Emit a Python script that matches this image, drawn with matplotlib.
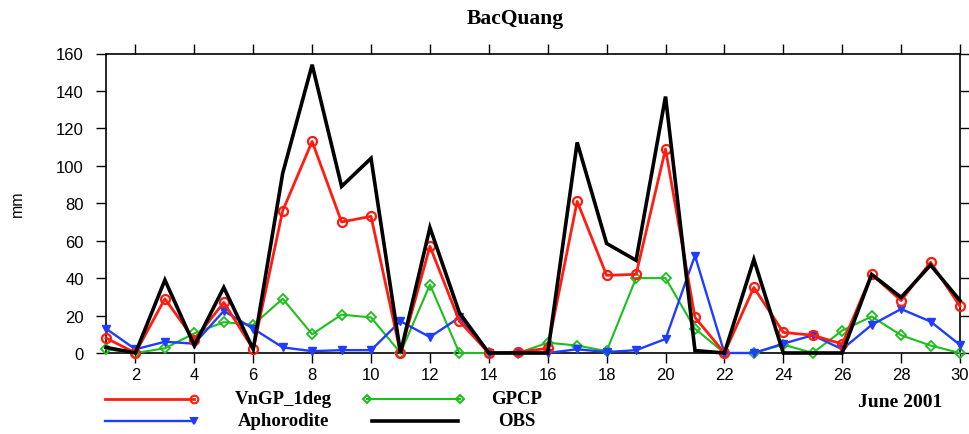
import matplotlib
matplotlib.use("Agg")
import matplotlib.pyplot as plt
from matplotlib.lines import Line2D

days = list(range(1, 31))
vngp = [8, 0, 29, 7, 27, 2, 76, 113, 70, 73, 0, 57, 17, 0, 0.5, 2.5, 81, 41.5, 42, 109,
        19, 0, 35, 11, 9.5, 4.8, 42, 28, 48.5, 25]
gpcp = [2, 0, 2.5, 10.5, 16.5, 15, 29, 10, 20.5, 19, 0, 36.5, 0, 0, 0, 5.5, 4, 1, 40, 40,
        13, 0, 0, 4.5, 0, 12, 19.5, 9.5, 4, 0]
aphro = [13, 2, 6, 5, 22.5, 13, 3, 1, 1.5, 1.5, 17, 8.5, 19, 0, 0, 0, 2, 0.5, 1.5, 7.5,
         52, 0, 0, 5, 9.5, 2, 15, 23.5, 16.8, 4.3]
obs = [3, 0, 39, 4, 35, 2, 96, 154, 89, 104, 0, 67, 21.5, 0, 0, 0, 112.5, 58.5, 49.5, 137,
       1.3, 0, 50, 0, 0, 0, 42, 29.7, 47, 28]

xticks = list(range(2, 31, 2))
yticks = list(range(0, 161, 20))

RED = "#ff1c10"
GREEN = "#1cbf1c"
BLUE = "#1f3cff"
BLACK = "#000000"

W, H = 970, 435
fig = plt.figure(figsize=(W / 100, H / 100), dpi=100)
ax = fig.add_axes([106 / W, 1 - 354 / H, (960 - 106) / W, (354 - 54.5) / H])

ax.plot(days, gpcp, color=GREEN, lw=1.5, marker="D", ms=5, mfc="none", mec=GREEN,
        mew=1.3, clip_on=False, zorder=3)
ax.plot(days, aphro, color=BLUE, lw=1.7, marker="v", ms=5.8, mfc=BLUE, mec=BLUE,
        clip_on=False, zorder=4)
ax.plot(days, vngp, color=RED, lw=2.0, marker="o", ms=6.5, mfc="none", mec=RED,
        mew=1.6, clip_on=False, zorder=5)
ax.plot(days, obs, color=BLACK, lw=2.6, solid_joinstyle="miter", clip_on=False, zorder=6)

ax.set_xlim(1, 30)
ax.set_ylim(0, 160)
ax.set_xticks(xticks)
ax.set_yticks(yticks)
for s in ax.spines.values():
    s.set_linewidth(1.2)
ax.tick_params(axis="both", direction="out", length=7, width=1.0,
               top=True, right=True, labelsize=12)
ax.tick_params(axis="x", pad=3)
ax.tick_params(axis="y", pad=9)
for lab in ax.get_xticklabels() + ax.get_yticklabels():
    lab.set_family("Liberation Sans")

fig.text(17 / W, 1 - 204 / H, "mm", rotation=90, ha="center", va="center",
         fontsize=11.5, family="Liberation Sans")
fig.text(515 / W, 1 - 19 / H, "BacQuang", ha="center", va="center",
         fontsize=15.5, fontweight="bold", family="Liberation Serif")
fig.text(900 / W, 1 - 403 / H, "June 2001", ha="center", va="center",
         fontsize=14, fontweight="bold", family="Liberation Serif")

def fx(x):
    return x / W

def fy(y):
    return 1 - y / H

legend_items = [
    ("VnGP_1deg", RED, 2.0, "o", [1], 105, 194, 400, 283, 5.5, "none"),
    ("GPCP", GREEN, 1.5, "D", [0, 1], 367, 460, 400, 517, 4.5, "none"),
    ("Aphorodite", BLUE, 1.7, "v", [1], 105, 194, 421.5, 283, 5, BLUE),
    ("OBS", BLACK, 2.6, None, None, 372, 458, 421.5, 517, 0, "none"),
]
for label, col, lw, mk, mev, x0, x1, yy, tx, ms, mfc in legend_items:
    ln = Line2D([fx(x0), fx(x1)], [fy(yy), fy(yy)], transform=fig.transFigure,
                color=col, lw=lw, marker=mk, markevery=mev, ms=ms, mfc=mfc,
                mec=col, mew=1.5)
    fig.add_artist(ln)
    fig.text(fx(tx), fy(yy), label, ha="center", va="center", fontsize=13.5,
             fontweight="bold", family="Liberation Serif")

fig.savefig("out.png", dpi=100)
